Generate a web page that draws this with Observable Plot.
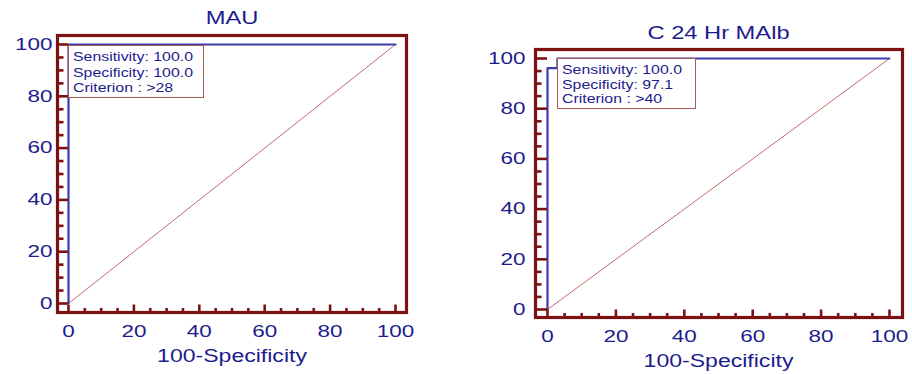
<!DOCTYPE html>
<html><head><meta charset="utf-8">
<script src="https://cdn.jsdelivr.net/npm/d3@7"></script>
<script src="https://cdn.jsdelivr.net/npm/@observablehq/plot@0.6"></script>
<style>
body{margin:0;background:#fff;}
#wrap{position:relative;width:912px;height:374px;overflow:hidden;font-family:"Liberation Sans",Arial,sans-serif;}
.panel{position:absolute;top:0;}
.legend{position:absolute;box-sizing:border-box;border:1px solid #a65a5a;background:#fff;color:#1c1c8c;font-size:12.5px;padding:4px 0 0 4px;}
.legend div{transform-origin:left center;transform:scaleX(1.27);white-space:nowrap;}
</style></head><body><div id="wrap"></div>
<script>
// ---- data ----
const majorTicks = [0, 20, 40, 60, 80, 100];
const minorTicks = [5, 10, 15, 25, 30, 35, 45, 50, 55, 65, 70, 75, 85, 90, 95];
const diagX = [0, 100];
const diagY = [0, 100];
const mauFpr = [0, 0, 100];
const mauTpr = [0, 100, 100];
const malbFpr = [0, 0, 2.9, 2.9, 100];
const malbTpr = [0, 96.2, 96.2, 100, 100];
const titles = ["MAU", "C 24 Hr MAlb"];
const xLabel = "100-Specificity";
const legendMau = ["Sensitivity: 100.0", "Specificity: 100.0", "Criterion : >28"];
const legendMalb = ["Sensitivity: 100.0", "Specificity: 97.1", "Criterion : >40"];

// ---- styles ----
const navy = "#1c1c8c";
const frameRed = "#7d1010";
const rocBlue = "#3c3cae";
const diagRed = "#c46a6a";

// a plain line segment shape for inward x ticks
const tickShape = {draw(ctx, l) { ctx.moveTo(0, 0); ctx.lineTo(0, -l); }};

function panel(cfg) {
  const roc = cfg.fpr.map((x, i) => ({x, y: cfg.tpr[i]}));
  const diag = diagX.map((x, i) => ({x, y: diagY[i]}));
  const fb = cfg.frameInset;
  const W = 456 - cfg.ml - cfg.mr;
  return Plot.plot({
    width: 456, height: 374,
    marginLeft: cfg.ml, marginRight: cfg.mr, marginTop: cfg.mt, marginBottom: cfg.mb,
    style: {fontFamily: '"Liberation Sans", Arial, sans-serif', background: "transparent", overflow: "visible"},
    x: {domain: [0, 100], axis: null},
    y: {domain: [0, 100], axis: null},
    marks: [
      Plot.line(diag, {x: "x", y: "y", stroke: diagRed, strokeWidth: 1}),
      Plot.line(roc, {x: "x", y: "y", stroke: rocBlue, strokeWidth: 2.2}),
      Plot.frame({stroke: frameRed, strokeWidth: 3.2, insetLeft: -fb.l, insetRight: -fb.r, insetTop: -fb.t, insetBottom: -fb.b}),
      // x ticks (inward, from bottom frame)
      Plot.vector(majorTicks, {x: d => d, frameAnchor: "bottom", dy: fb.b, length: 8, rotate: 0, anchor: "start", shape: tickShape, stroke: frameRed, strokeWidth: 2.6, strokeLinecap: "butt"}),
      Plot.vector(minorTicks, {x: d => d, frameAnchor: "bottom", dy: fb.b, length: 4.5, rotate: 0, anchor: "start", shape: tickShape, stroke: frameRed, strokeWidth: 2.6, strokeLinecap: "butt"}),
      // y ticks (inward, from left frame)
      Plot.tickY(majorTicks, {y: d => d, insetLeft: -fb.l, insetRight: W, stroke: frameRed, strokeWidth: 2.6}),
      Plot.tickY(minorTicks, {y: d => d, insetLeft: -fb.l, insetRight: W + fb.l - 6.5, stroke: frameRed, strokeWidth: 2.6}),
      // tick labels
      Plot.axisX(majorTicks, {anchor: "bottom", tickSize: 0, tickPadding: cfg.xPad, fill: navy, fontSize: 16.5, label: null}),
      Plot.axisY(majorTicks, {anchor: "left", tickSize: 0, tickPadding: cfg.yPad, fill: navy, fontSize: 16.5, label: null}),
      // title & axis label
      Plot.text([cfg.title], {frameAnchor: "top", lineAnchor: "middle", dy: cfg.titleDy, fontSize: 18.5, fill: navy}),
      Plot.text([xLabel], {frameAnchor: "bottom", lineAnchor: "middle", dy: cfg.labelDy, fontSize: 18, fill: navy})
    ]
  });
}

const wrap = document.getElementById("wrap");
const panels = [
  {left: 0, title: titles[0], fpr: mauFpr, tpr: mauTpr, ml: 68, mr: 61, mt: 44, mb: 71,
   frameInset: {l: 11, r: 11, t: 9, b: 9}, xPad: 22, yPad: 16, titleDy: -26, labelDy: 53,
   legend: legendMau, box: {left: 68, top: 45, width: 136, height: 53, lh: 15.5}},
  {left: 456, title: titles[1], fpr: malbFpr, tpr: malbTpr, ml: 91, mr: 23, mt: 58, mb: 65,
   frameInset: {l: 12, r: 13, t: 9, b: 8}, xPad: 21, yPad: 22, titleDy: -25, labelDy: 52,
   legend: legendMalb, box: {left: 557, top: 58, width: 139, height: 51, lh: 14.5}}
];

for (const p of panels) {
  const svg = panel(p);
  svg.classList.add("panel");
  svg.style.left = p.left + "px";
  wrap.appendChild(svg);
  const box = document.createElement("div");
  box.className = "legend";
  Object.assign(box.style, {left: p.box.left + "px", top: p.box.top + "px", width: p.box.width + "px", height: p.box.height + "px", lineHeight: p.box.lh + "px"});
  for (const line of p.legend) {
    const d = document.createElement("div");
    d.textContent = line;
    box.appendChild(d);
  }
  wrap.appendChild(box);
}

// widen glyphs horizontally like the reference
wrap.querySelectorAll("svg text").forEach(t => {
  if (t.querySelector("tspan")) return;
  const L = t.getComputedTextLength();
  if (!L) return;
  const g = t.closest("g");
  const isTick = g && /tick label/.test(g.getAttribute("aria-label") || "");
  const k = isTick ? 1.36 : 1.28;
  t.setAttribute("textLength", (L * k).toFixed(2));
  t.setAttribute("lengthAdjust", "spacingAndGlyphs");
});
</script></body></html>
